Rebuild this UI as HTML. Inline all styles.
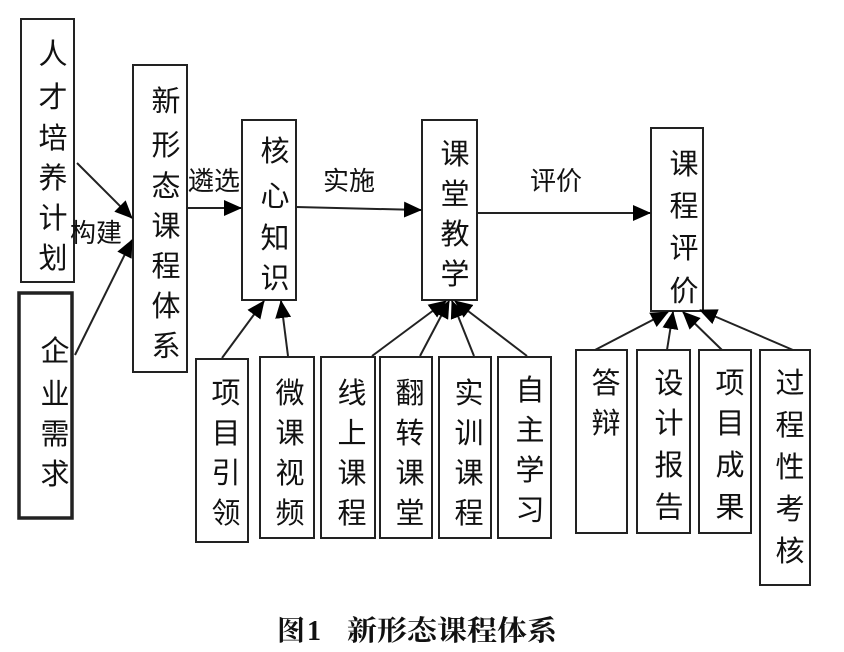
<!DOCTYPE html>
<html><head><meta charset="utf-8"><style>
html,body{margin:0;padding:0;background:#fff;}
svg{display:block;}
text{font-family:"Liberation Sans","Noto Sans CJK SC",sans-serif;font-size:29px;fill:#111;}
.cap{font-family:"Liberation Serif","Noto Serif CJK SC",serif;font-size:28px;font-weight:bold;}
</style></head><body>
<svg width="844" height="652" viewBox="0 0 844 652" xmlns="http://www.w3.org/2000/svg">
<defs>
<marker id="b" markerWidth="18" markerHeight="16" refX="17" refY="8" orient="auto" markerUnits="userSpaceOnUse"><path d="M0,0 L18,8 L0,16 z" fill="#000"/></marker></defs>
<g fill="none" stroke="#222" stroke-width="2">
<rect x="21" y="19" width="53" height="263"/>
<rect x="19" y="293" width="53" height="225" stroke-width="3.5"/>
<rect x="133" y="65" width="54" height="307"/>
<rect x="242" y="120" width="54" height="180"/>
<rect x="422" y="120" width="55" height="180"/>
<rect x="651" y="128" width="52" height="183"/>
<rect x="196" y="359" width="52" height="183"/>
<rect x="260" y="357" width="54" height="181"/>
<rect x="321" y="357" width="54" height="181"/>
<rect x="380" y="357" width="52" height="181"/>
<rect x="439" y="357" width="52" height="181"/>
<rect x="498" y="357" width="53" height="181"/>
<rect x="576" y="350" width="51" height="183"/>
<rect x="637" y="350" width="53" height="183"/>
<rect x="699" y="350" width="52" height="183"/>
<rect x="760" y="350" width="50" height="235"/>
</g>
<g stroke="#222" stroke-width="2" marker-end="url(#b)">
<line x1="77" y1="163" x2="132" y2="218"/>
<line x1="75" y1="355" x2="132" y2="240"/>
<line x1="187" y1="208" x2="241" y2="208"/>
<line x1="296" y1="207" x2="421" y2="210"/>
<line x1="477" y1="213" x2="650" y2="213"/>
<line x1="222" y1="358" x2="264" y2="301"/>
<line x1="288" y1="356" x2="281" y2="301"/>
<line x1="372" y1="356" x2="446" y2="301"/>
<line x1="420" y1="356" x2="449" y2="301"/>
<line x1="474" y1="356" x2="452" y2="301"/>
<line x1="527" y1="356" x2="455" y2="301"/>
<line x1="595" y1="350" x2="668" y2="312"/>
<line x1="667" y1="350" x2="673" y2="312"/>
<line x1="722" y1="350" x2="683" y2="312"/>
<line x1="793" y1="350" x2="700" y2="310"/>
</g>
<g text-anchor="middle">
<text x="53" y="64">人</text><text x="53" y="107">才</text><text x="53" y="148">培</text><text x="53" y="188">养</text><text x="53" y="228">计</text><text x="53" y="268">划</text>
<text x="55" y="361">企</text><text x="55" y="404">业</text><text x="55" y="444">需</text><text x="55" y="484">求</text>
<text x="166" y="111">新</text><text x="166" y="155">形</text><text x="166" y="196">态</text><text x="166" y="236">课</text><text x="166" y="276">程</text><text x="166" y="316">体</text><text x="166" y="356">系</text>
<text x="275" y="161">核</text><text x="275" y="206">心</text><text x="275" y="248">知</text><text x="275" y="288">识</text>
<text x="455" y="164">课</text><text x="455" y="204">堂</text><text x="455" y="244">教</text><text x="455" y="284">学</text>
<text x="684" y="174">课</text><text x="684" y="216">程</text><text x="684" y="258">评</text><text x="684" y="301">价</text>
<text x="226" y="403">项</text><text x="226" y="443">目</text><text x="226" y="483">引</text><text x="226" y="523">领</text>
<text x="290" y="403">微</text><text x="290" y="443">课</text><text x="290" y="483">视</text><text x="290" y="523">频</text>
<text x="352" y="403">线</text><text x="352" y="443">上</text><text x="352" y="483">课</text><text x="352" y="523">程</text>
<text x="410" y="403">翻</text><text x="410" y="443">转</text><text x="410" y="483">课</text><text x="410" y="523">堂</text>
<text x="469" y="403">实</text><text x="469" y="443">训</text><text x="469" y="483">课</text><text x="469" y="523">程</text>
<text x="530" y="400">自</text><text x="530" y="440">主</text><text x="530" y="480">学</text><text x="530" y="520">习</text>
<text x="606" y="393">答</text><text x="606" y="433">辩</text>
<text x="669" y="393">设</text><text x="669" y="433">计</text><text x="669" y="475">报</text><text x="669" y="517">告</text>
<text x="730" y="393">项</text><text x="730" y="433">目</text><text x="730" y="475">成</text><text x="730" y="517">果</text>
<text x="790" y="393">过</text><text x="790" y="435">程</text><text x="790" y="477">性</text><text x="790" y="519">考</text><text x="790" y="561">核</text>
</g>
<text x="70" y="242" style="font-size:26px">构建</text>
<text x="188" y="190" style="font-size:26px">遴选</text>
<text x="323" y="190" style="font-size:26px">实施</text>
<text x="530" y="190" style="font-size:26px">评价</text>
<text class="cap" x="277" y="640" textLength="44" lengthAdjust="spacing">图1</text>
<text class="cap" x="347" y="640" textLength="210" lengthAdjust="spacingAndGlyphs">新形态课程体系</text>
</svg>
</body></html>
